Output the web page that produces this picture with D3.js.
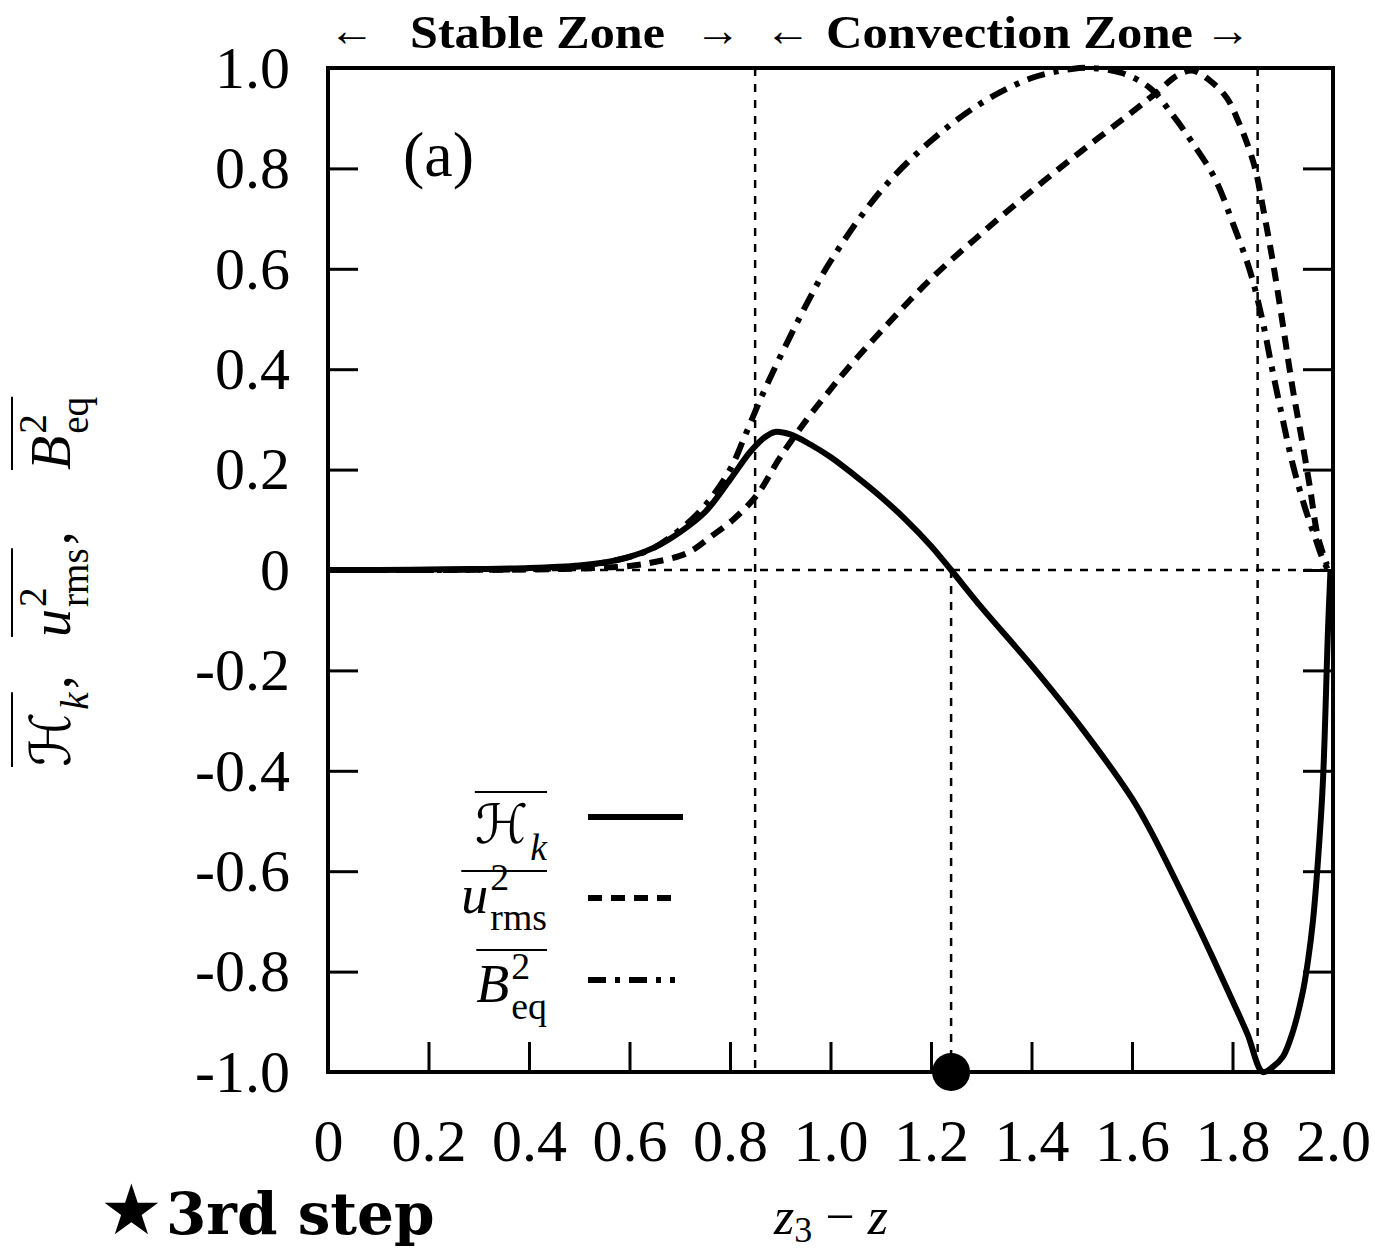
<!DOCTYPE html>
<html><head><meta charset="utf-8">
<script src="https://cdn.jsdelivr.net/npm/d3@7"></script>
<style>body{margin:0;background:#fff} svg{display:block}</style>
</head><body>
<svg id="c" width="1375" height="1252"></svg>
<script>
// ---- data ----
const zH = [0, 0.1, 0.2, 0.3, 0.4, 0.5, 0.55, 0.6, 0.65, 0.7, 0.75, 0.8, 0.84, 0.87, 0.89, 0.92, 0.96, 1.0, 1.05, 1.1, 1.15, 1.2, 1.24, 1.3, 1.4, 1.5, 1.6, 1.64, 1.7, 1.755, 1.8, 1.83, 1.86, 1.88, 1.9, 1.92, 1.94, 1.95, 1.96, 1.97, 1.98, 1.99, 1.995];
const hk = [0, 0, 0.001, 0.002, 0.004, 0.009, 0.015, 0.026, 0.045, 0.075, 0.115, 0.18, 0.235, 0.265, 0.275, 0.27, 0.25, 0.225, 0.187, 0.146, 0.1, 0.048, 0, -0.074, -0.19, -0.315, -0.455, -0.525, -0.645, -0.76, -0.858, -0.925, -1.0, -0.99, -0.97, -0.92, -0.84, -0.78, -0.70, -0.58, -0.42, -0.12, 0];

const zU = [0, 0.2, 0.4, 0.5, 0.6, 0.65, 0.7, 0.726, 0.76, 0.806, 0.854, 0.9, 0.953, 1.0, 1.033, 1.1, 1.2, 1.3, 1.4, 1.5, 1.6, 1.65, 1.69, 1.72, 1.755, 1.789, 1.811, 1.829, 1.845, 1.861, 1.881, 1.9, 1.92, 1.938, 1.954, 1.97, 1.988];
const urms = [0, 0, 0.001, 0.003, 0.008, 0.016, 0.028, 0.04, 0.065, 0.10, 0.15, 0.225, 0.30, 0.36, 0.40, 0.475, 0.58, 0.67, 0.755, 0.835, 0.912, 0.952, 0.985, 0.995, 0.975, 0.94, 0.895, 0.85, 0.80, 0.72, 0.61, 0.49, 0.36, 0.26, 0.165, 0.066, 0.01];

const zB = [0, 0.2, 0.4, 0.5, 0.6, 0.65, 0.7, 0.75, 0.8, 0.826, 0.854, 0.874, 0.9, 0.95, 1.0, 1.1, 1.2, 1.3, 1.4, 1.48, 1.52, 1.58, 1.636, 1.682, 1.721, 1.765, 1.801, 1.835, 1.859, 1.879, 1.9, 1.92, 1.944, 1.964, 1.978, 1.99];
const beq = [0, 0, 0.002, 0.007, 0.026, 0.045, 0.08, 0.128, 0.20, 0.258, 0.325, 0.37, 0.425, 0.525, 0.615, 0.755, 0.855, 0.93, 0.98, 0.998, 1.0, 0.99, 0.96, 0.905, 0.85, 0.78, 0.69, 0.595, 0.50, 0.40, 0.30, 0.21, 0.125, 0.066, 0.026, 0];

const xTicks = [0, 0.2, 0.4, 0.6, 0.8, 1.0, 1.2, 1.4, 1.6, 1.8, 2.0];
const xTickLabels = ["0", "0.2", "0.4", "0.6", "0.8", "1.0", "1.2", "1.4", "1.6", "1.8", "2.0"];
const yTicks = [1.0, 0.8, 0.6, 0.4, 0.2, 0, -0.2, -0.4, -0.6, -0.8, -1.0];
const yTickLabels = ["1.0", "0.8", "0.6", "0.4", "0.2", "0", "-0.2", "-0.4", "-0.6", "-0.8", "-1.0"];
const zoneBounds = [0.85, 1.85];
const hkZero = 1.24;

// ---- layout ----
const svg = d3.select("#c");
const L = 328, R = 1333, T = 68, B = 1072;
const x = d3.scaleLinear().domain([0, 2]).range([L, R]);
const y = d3.scaleLinear().domain([-1, 1]).range([B, T]);
const SERIF = "'Liberation Serif','DejaVu Serif',serif";

// reference lines
const ref = svg.append("g").attr("stroke", "#000").attr("stroke-width", 2.5).attr("stroke-dasharray", "8,8").attr("fill", "none");
ref.append("line").attr("x1", x(0)).attr("x2", x(2)).attr("y1", y(0)).attr("y2", y(0));
zoneBounds.forEach(z => ref.append("line").attr("x1", x(z)).attr("x2", x(z)).attr("y1", y(1)).attr("y2", y(-1)));
ref.append("line").attr("x1", x(hkZero)).attr("x2", x(hkZero)).attr("y1", y(0)).attr("y2", y(-1));

// curves
const line = d3.line().x(d => x(d[0])).y(d => y(d[1])).curve(d3.curveCatmullRom.alpha(0.5));
const series = [
  {z: zH, v: hk, dash: null},
  {z: zU, v: urms, dash: "14,9"},
  {z: zB, v: beq, dash: "18,9,5,9"}
];
series.forEach(s => {
  svg.append("path").datum(s.z.map((z, i) => [z, s.v[i]]))
    .attr("d", line).attr("fill", "none").attr("stroke", "#000")
    .attr("stroke-width", 6).attr("stroke-dasharray", s.dash)
    .attr("stroke-linejoin", "round");
});

// frame
svg.append("rect").attr("x", L).attr("y", T).attr("width", R - L).attr("height", B - T)
  .attr("fill", "none").attr("stroke", "#000").attr("stroke-width", 4);

// axes
const xAxis = d3.axisBottom(x).tickValues(xTicks).tickFormat((d, i) => xTickLabels[i])
  .tickSizeInner(-30).tickSizeOuter(0).tickPadding(46);
const gx = svg.append("g").attr("transform", `translate(0,${B})`).call(xAxis);
const yAxis = d3.axisLeft(y).tickValues(yTicks).tickFormat((d, i) => yTickLabels[i])
  .tickSizeInner(-30).tickSizeOuter(0).tickPadding(38);
const gy = svg.append("g").attr("transform", `translate(${L},0)`).call(yAxis);
const yAxisR = d3.axisRight(y).tickValues(yTicks).tickFormat("").tickSizeInner(-30).tickSizeOuter(0);
const gyr = svg.append("g").attr("transform", `translate(${R},0)`).call(yAxisR);
[gx, gy, gyr].forEach(g => {
  g.select(".domain").remove();
  g.selectAll(".tick line").attr("stroke", "#000").attr("stroke-width", 3);
  g.selectAll(".tick text").attr("font-family", SERIF).attr("font-size", 60).attr("fill", "#000");
});

// zero-crossing dot
svg.append("circle").attr("cx", x(hkZero)).attr("cy", y(-1)).attr("r", 19).attr("fill", "#000");

// ---- text ----
// top zone labels
const zoneG = svg.append("g").attr("font-family", SERIF).attr("fill", "#000");
[[352, "←"], [718, "→"], [788, "←"], [1228, "→"]].forEach(([cx, t]) =>
  zoneG.append("text").attr("x", cx).attr("y", 46).attr("text-anchor", "middle")
    .attr("font-size", 46).text(t));
zoneG.append("text").attr("x", 410).attr("y", 48).attr("font-size", 46).attr("font-weight", "bold")
  .attr("textLength", 255).attr("lengthAdjust", "spacingAndGlyphs").text("Stable Zone");
zoneG.append("text").attr("x", 826).attr("y", 48).attr("font-size", 46).attr("font-weight", "bold")
  .attr("textLength", 367).attr("lengthAdjust", "spacingAndGlyphs").text("Convection Zone");

// (a)
svg.append("text").attr("x", 403).attr("y", 176).attr("font-family", SERIF).attr("font-size", 64).text("(a)");

// math term helper: base with optional sup/sub, overlined
function term(parent, opt) {
  const g = parent.append("g");
  const b = g.append("text").attr("x", 0).attr("y", 0).attr("font-family", opt.baseFont || SERIF)
    .attr("font-style", "italic").attr("font-size", opt.size).text(opt.base);
  const wb = b.node().getComputedTextLength();
  let wx = 0;
  const ss = opt.size * 0.7;
  if (opt.sup) {
    const t = g.append("text").attr("x", wb + 2).attr("y", -opt.size * 0.42).attr("font-family", SERIF)
      .attr("font-size", ss).text(opt.sup);
    wx = Math.max(wx, t.node().getComputedTextLength());
  }
  if (opt.sub) {
    const t = g.append("text").attr("x", wb + 2).attr("y", opt.size * 0.32).attr("font-family", SERIF)
      .attr("font-style", opt.subItalic ? "italic" : "normal").attr("font-size", ss).text(opt.sub);
    wx = Math.max(wx, t.node().getComputedTextLength());
  }
  const w = wb + 2 + wx;
  g.append("line").attr("x1", 0).attr("x2", w).attr("y1", -opt.over).attr("y2", -opt.over)
    .attr("stroke", "#000").attr("stroke-width", 2);
  const x0 = opt.anchor === "end" ? opt.x - w : opt.x;
  g.attr("transform", `translate(${x0},${opt.y})`);
  return w;
}
const CAL = "'DejaVu Serif','DejaVu Sans',serif";

// legend
const legendItems = [
  {base: "ℋ", sub: "k", subItalic: true, font: CAL, y: 843, over: 51, ly: 817, dash: null, x2: 683},
  {base: "u", sup: "2", sub: "rms", y: 913, over: 42, ly: 898, dash: "14,9", x2: 675},
  {base: "B", sup: "2", sub: "eq", y: 1002, over: 52, ly: 980, dash: "18,9,5,9", x2: 675}
];
const lg = svg.append("g");
legendItems.forEach(it => {
  term(lg, {base: it.base, baseFont: it.font, sup: it.sup, sub: it.sub, subItalic: it.subItalic,
    size: 54, x: 547, y: it.y, over: it.over, anchor: "end"});
  lg.append("line").attr("x1", 588).attr("x2", it.x2).attr("y1", it.ly).attr("y2", it.ly)
    .attr("stroke", "#000").attr("stroke-width", 6).attr("stroke-dasharray", it.dash);
});

// y-axis label (rotated)
const yl = svg.append("g").attr("transform", "translate(70,767) rotate(-90)");
const w1 = term(yl, {base: "ℋ", baseFont: CAL, sub: "k", subItalic: true, size: 56, x: 0, y: 0, over: 58});
yl.append("text").attr("x", w1 + 3).attr("y", 0).attr("font-family", SERIF).attr("font-size", 56).text(",");
const w2 = term(yl, {base: "u", sup: "2", sub: "rms", size: 56, x: 130, y: 0, over: 58});
yl.append("text").attr("x", 130 + w2 + 3).attr("y", 0).attr("font-family", SERIF).attr("font-size", 56).text(",");
term(yl, {base: "B", sup: "2", sub: "eq", size: 56, x: 297, y: 0, over: 58});

// x-axis label
const xl = svg.append("text").attr("x", 831).attr("y", 1234).attr("text-anchor", "middle")
  .attr("font-family", SERIF).attr("font-size", 52);
xl.append("tspan").attr("font-style", "italic").text("z");
xl.append("tspan").attr("font-size", 36).attr("dy", 8).text("3");
xl.append("tspan").attr("dy", -8).text(" − ");
xl.append("tspan").attr("font-style", "italic").text("z");

// bottom-left note
svg.append("text").attr("x", 100).attr("y", 1234).attr("font-family", "'DejaVu Sans',sans-serif")
  .attr("font-size", 70).text("★");
svg.append("text").attr("x", 166).attr("y", 1234).attr("font-family", "'DejaVu Serif',serif")
  .attr("font-weight", "bold").attr("font-size", 58).text("3rd step");
</script>
</body></html>
